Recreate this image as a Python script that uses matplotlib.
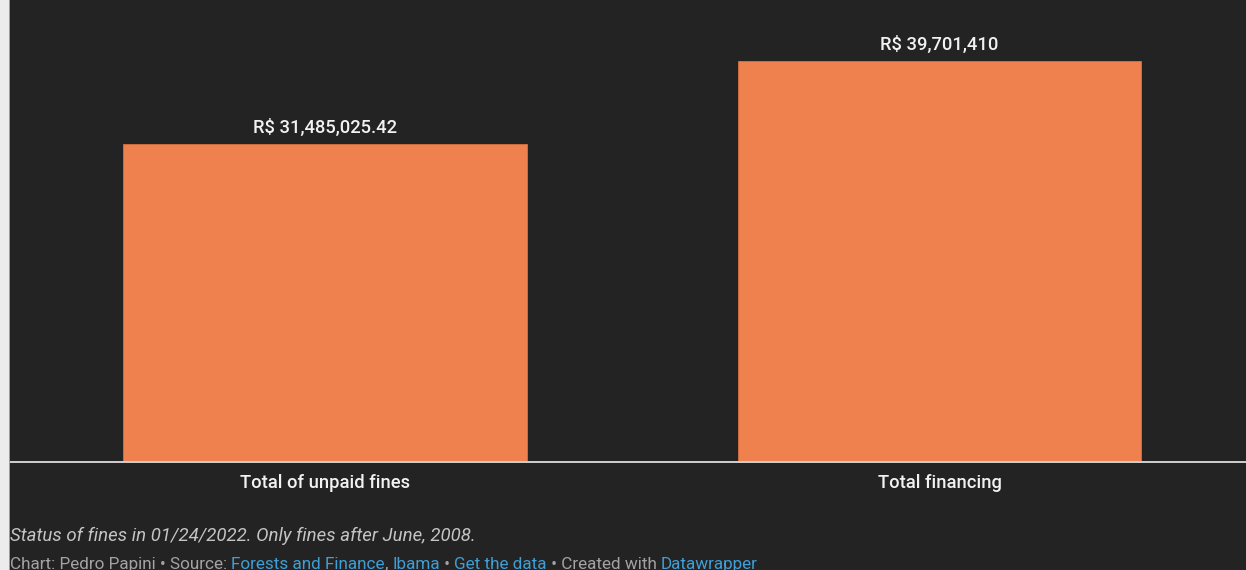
import matplotlib.pyplot as plt
from matplotlib.patches import Rectangle

# --------- Data ---------
categories = ["Total of unpaid fines", "Total financing"]
values = [31485025.42, 39701410]
value_labels = ["R$ 31,485,025.42", "R$ 39,701,410"]

note = "Status of fines in 01/24/2022. Only fines after June, 2008."
credit_parts = [
    ("Chart: Pedro Papini • Source: ", "#a3a3a3"),
    ("Forests and Finance", "#3f9fd6"),
    (", ", "#a3a3a3"),
    ("Ibama", "#3f9fd6"),
    (" • ", "#a3a3a3"),
    ("Get the data", "#3f9fd6"),
    (" • Created with ", "#a3a3a3"),
    ("Datawrapper", "#3f9fd6"),
]

# --------- Style ---------
BG = "#232323"
BAR = "#ee814d"
W, H, DPI = 1246, 570, 100

plt.rcParams["font.family"] = ["Roboto", "DejaVu Sans"]

fig = plt.figure(figsize=(W / DPI, H / DPI), dpi=DPI, facecolor=BG)

# light strip on the left edge of the screenshot
fig.patches.append(Rectangle((0, 0), 9 / W, 1, transform=fig.transFigure,
                             facecolor="#ececec", edgecolor="none"))
fig.patches.append(Rectangle((9 / W, 0), 1.2 / W, 1, transform=fig.transFigure,
                             facecolor="#9a9a9a", edgecolor="none"))

ax = fig.add_axes([10 / W, (H - 462) / H, (W - 10) / W, 462 / H])
ax.set_facecolor(BG)

x = list(range(len(categories)))
bars = ax.bar(x, values, width=0.657, color=BAR, edgecolor="#d96f3e", linewidth=0.6)

ax.set_xlim(-0.5126, 1.4988)
ax.set_ylim(0, 39701410 * 462 / 401)

for b, lab in zip(bars, value_labels):
    ax.annotate(lab, (b.get_x() + b.get_width() / 2, b.get_height()),
                xytext=(0, 8), textcoords="offset points",
                ha="center", va="baseline", color="#f2f2f2",
                fontsize=13.2, fontweight="medium")

ax.set_xticks(x)
ax.set_xticklabels(categories, color="#f2f2f2", fontsize=13.2, fontweight="medium")
ax.tick_params(axis="x", length=0, pad=9)
ax.set_yticks([])
for side in ["top", "left", "right"]:
    ax.spines[side].set_visible(False)
ax.spines["bottom"].set_color("#d0d0d0")
ax.spines["bottom"].set_linewidth(1.4)

# footer
fig.text(10 / W, 1 - 536 / H, note, color="#c4c4c4", fontsize=13.4,
         style="italic", ha="left", va="center")

renderer = fig.canvas.get_renderer()
xpos = 10
for txt, col in credit_parts:
    t = fig.text(xpos / W, 1 - 569 / H, txt, color=col, fontsize=12.3,
                 ha="left", va="baseline")
    xpos += t.get_window_extent(renderer).width

fig.savefig("out.png", dpi=DPI, facecolor=BG)
